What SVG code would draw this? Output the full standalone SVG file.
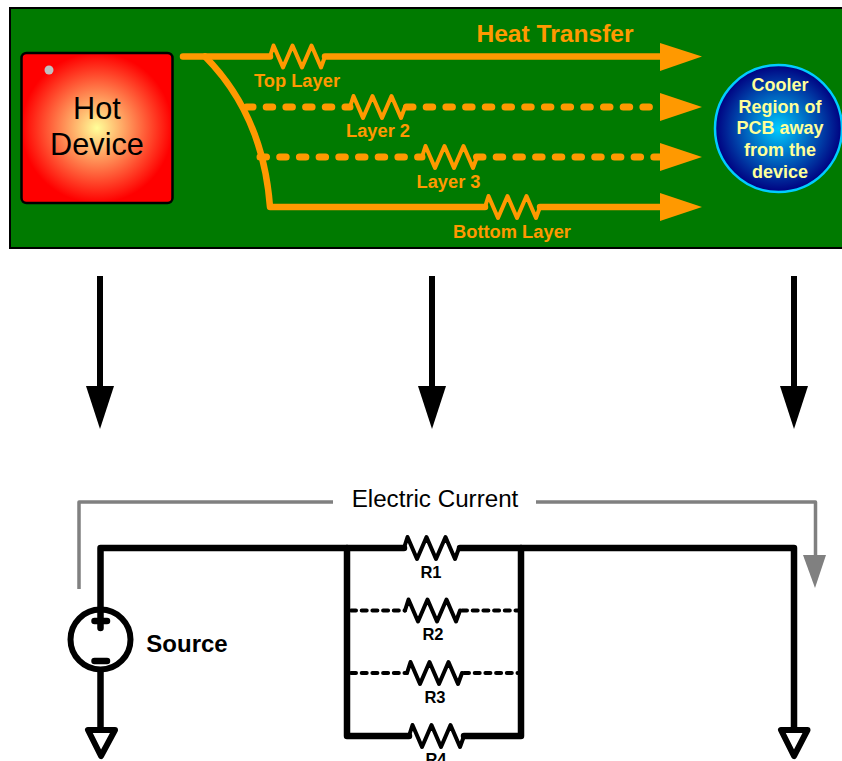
<svg xmlns="http://www.w3.org/2000/svg" xmlns:xlink="http://www.w3.org/1999/xlink" width="842" height="761" viewBox="0 0 842 761">
<style>
text{font-family:"Liberation Sans",Arial,sans-serif;text-anchor:middle}
.o{fill:none;stroke:#ff9900;stroke-width:6.500;stroke-linecap:round;stroke-linejoin:round}
.od{fill:none;stroke:#ff9900;stroke-width:7;stroke-linecap:round;stroke-dasharray:6.500 13.200}
.z{fill:none;stroke-width:4;stroke-linejoin:round;stroke-linecap:round}
.zo{stroke:#ff9900}.zb{stroke:#000}
.oh{fill:#ff9900}
.ol{fill:#ff9900;font-weight:bold;font-size:18.300px}
.k{fill:none;stroke:#000;stroke-width:6.500;stroke-linecap:round;stroke-linejoin:round}
.kd{fill:none;stroke:#000;stroke-width:4;stroke-linecap:round;stroke-dasharray:5 5.700}
.kl{fill:#000;font-weight:bold;font-size:16.500px}
.g{fill:none;stroke:#808080;stroke-width:3.500;stroke-linejoin:round}
.tri{fill:#fff;stroke:#000;stroke-width:6;stroke-linejoin:round}
.c{fill:#ffff99;font-weight:bold;font-size:18px}
</style>
<defs>
<radialGradient id="hot"><stop offset="0" stop-color="#ffff99"/><stop offset="1" stop-color="#ff0000"/></radialGradient>
<radialGradient id="cool"><stop offset="0" stop-color="#00ccff"/><stop offset="1" stop-color="#000080"/></radialGradient>
<path id="zig" d="M0,0 L3.500,-11 L13,11 L22.500,-11 L32,11 L41.500,-11 L51,11 L55,0"/>
</defs>
<g id="pcb"><rect x="10" y="8" width="850" height="240" fill="#007a00" stroke="#000" stroke-width="2"/></g>
<g id="hot-device">
<rect x="21.500" y="53" width="151" height="150" rx="5" fill="url(#hot)" stroke="#000" stroke-width="2.500"/>
<circle cx="49" cy="70" r="4.500" fill="#c0c0c0"/>
<text x="97" y="119" font-size="30.700">Hot</text>
<text x="97" y="155" font-size="30.700">Device</text>
</g>
<g id="cooler-region">
<circle cx="778.500" cy="128.500" r="63.500" fill="url(#cool)" stroke="#00ccff" stroke-width="2.500"/>
<text class="c" x="780" y="91">Cooler</text>
<text class="c" x="780" y="113">Region of</text>
<text class="c" x="780" y="134">PCB away</text>
<text class="c" x="780" y="156">from the</text>
<text class="c" x="780" y="178">device</text>
</g>
<g id="heat-connectors">
<path class="o" d="M183,56.500 H270 M325,56.500 H665"/>
<path class="o" d="M205,56.500 Q263,115 270,207 H485 M540,207 H665"/>
<path class="od" d="M246.500,107 H350 M406.500,107 H662"/>
<path class="od" d="M260,157 H422 M476.500,157 H662"/>
<use href="#zig" class="z zo" x="270" y="56.500"/>
<use href="#zig" class="z zo" x="350" y="107"/>
<use href="#zig" class="z zo" x="422" y="157"/>
<use href="#zig" class="z zo" x="485" y="207"/>
<polygon class="oh" points="660,43 702,56.500 660,71"/>
<polygon class="oh" points="660,93 702,107 660,121"/>
<polygon class="oh" points="660,143 702,157 660,171"/>
<polygon class="oh" points="660,193 702,207 660,221"/>
</g>
<g id="heat-labels">
<text x="555" y="42" font-size="24.600" font-weight="bold" fill="#ff9900">Heat Transfer</text>
<text class="ol" x="297" y="87">Top Layer</text>
<text class="ol" x="378" y="137">Layer 2</text>
<text class="ol" x="448.500" y="188">Layer 3</text>
<text class="ol" x="512" y="238">Bottom Layer</text>
</g>
<g id="mapping-arrows">
<path d="M100,276 V390 M432,276 V390 M794,276 V390" fill="none" stroke="#000" stroke-width="6"/>
<polygon points="86,386 100,429 114,386"/>
<polygon points="418,386 432,429 446,386"/>
<polygon points="780,386 794,429 808,386"/>
</g>
<g id="current-connector">
<path class="g" d="M79,589 V502 H333 M536,502 H815.500 V558"/>
<polygon points="803,555 826,555 815,588" fill="#808080"/>
<text x="435" y="507" font-size="24.200">Electric Current</text>
</g>
<g id="circuit-connectors">
<path class="k" d="M100.500,628 V548 H404 M460,548 H794 V730"/>
<path class="k" d="M100.500,672 V730"/>
<path class="k" d="M347,548 V736 H409 M464,736 H521 V548"/>
<path class="kd" d="M351,610.500 H405 M462,610.500 H519"/>
<path class="kd" d="M351,673 H407 M464,673 H519"/>
<use href="#zig" class="z zb" x="404" y="548"/>
<use href="#zig" class="z zb" x="405" y="610.500"/>
<use href="#zig" class="z zb" x="407" y="673"/>
<use href="#zig" class="z zb" x="409" y="736"/>
</g>
<g id="source">
<circle cx="100.500" cy="639.500" r="30" fill="none" stroke="#000" stroke-width="6"/>
<path class="k" d="M94.500,621 H107 M94.500,661 H107"/>
<text x="187" y="652" font-size="24" font-weight="bold">Source</text>
</g>
<g id="ground-left"><polygon class="tri" points="88,730 115,730 101,756"/></g>
<g id="ground-right"><polygon class="tri" points="781,730 807.500,730 794,756"/></g>
<g id="resistor-labels">
<text class="kl" x="431" y="578">R1</text>
<text class="kl" x="433" y="640">R2</text>
<text class="kl" x="435" y="703">R3</text>
<text class="kl" x="436" y="765">R4</text>
</g>
</svg>
